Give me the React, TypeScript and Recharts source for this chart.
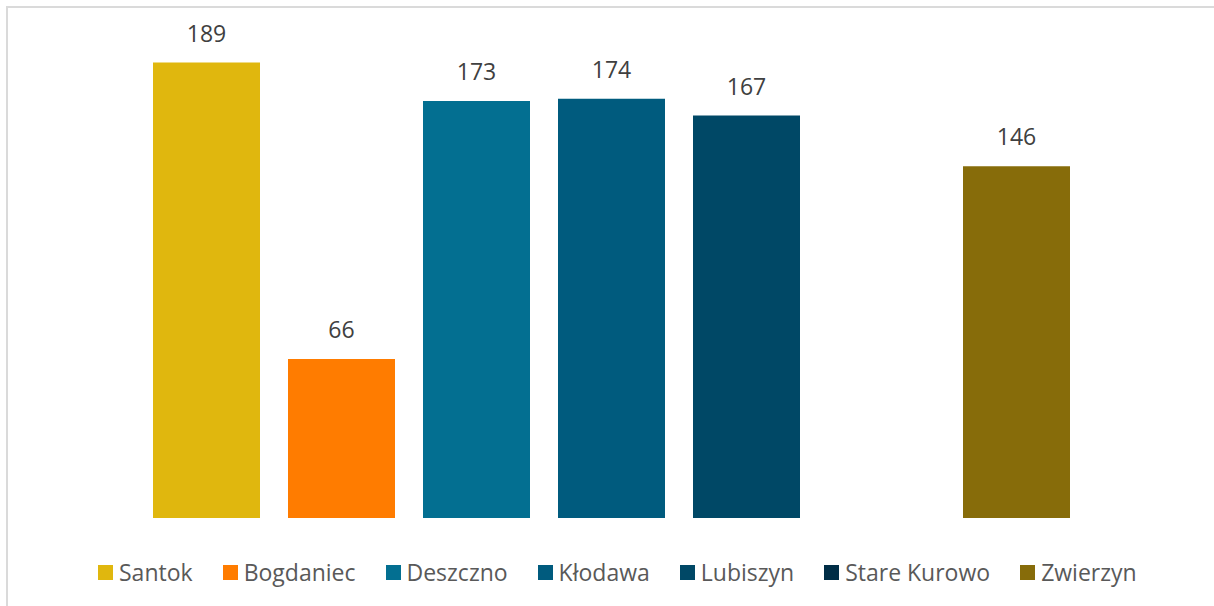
import React from 'react';
import { BarChart, Bar, XAxis, YAxis, Legend, LabelList } from 'recharts';

const gminy = ['Santok', 'Bogdaniec', 'Deszczno', 'Kłodawa', 'Lubiszyn', 'Stare Kurowo', 'Zwierzyn'];
const wartosci: (number | null)[] = [189, 66, 173, 174, 167, null, 146];
const kolory = ['#E0B70E', '#FF7C00', '#036F91', '#005B7E', '#004866', '#002D46', '#876C0A'];

const data = [
  gminy.reduce((row: Record<string, any>, g, i) => {
    row[g] = wartosci[i];
    return row;
  }, { name: '' }),
];

const FONT = '"Open Sans", "Noto Sans", sans-serif';

function LegendContent(props: any) {
  // keep the series order, recharts sorts the payload by name
  const items = [...(props.payload || [])].sort(
    (a: any, b: any) => gminy.indexOf(a.value) - gminy.indexOf(b.value)
  );
  return (
    <div style={{ display: 'flex', alignItems: 'center', paddingLeft: 98, fontFamily: FONT }}>
      {items.map((it: any) => (
        <div key={it.value} style={{ display: 'flex', alignItems: 'center', marginRight: 30 }}>
          <span style={{ width: 15, height: 15, background: it.color, display: 'inline-block', marginRight: 6 }} />
          <span style={{ fontSize: 23, color: '#595959', lineHeight: '28px' }}>{it.value}</span>
        </div>
      ))}
    </div>
  );
}

export default function App() {
  return (
    <div style={{ position: 'absolute', left: 0, top: 0, width: 1214, height: 606, background: '#fff', overflow: 'hidden' }}>
      <div
        style={{
          position: 'absolute',
          left: 6,
          top: 6,
          width: 1220,
          height: 620,
          borderTop: '2px solid #DADADA',
          borderLeft: '2px solid #DADADA',
        }}
      />
      <BarChart
        width={1214}
        height={606}
        data={data}
        margin={{ top: 36, right: 130, bottom: 8, left: 138 }}
        barSize={107}
        barGap={28}
        style={{ position: 'absolute', left: 0, top: 0 }}
      >
        <XAxis dataKey="name" hide />
        <YAxis domain={[0, 200]} hide />
        <Legend
          verticalAlign="bottom"
          height={40}
          content={<LegendContent />}
          wrapperStyle={{ left: 0, width: 1214, paddingTop: 40 }}
        />
        {gminy.map((g, i) => (
          <Bar key={g} dataKey={g} fill={kolory[i]} isAnimationActive={false}>
            <LabelList
              dataKey={g}
              position="top"
              offset={21}
              fill="#404040"
              fontSize={23}
              fontFamily={FONT}
            />
          </Bar>
        ))}
      </BarChart>
    </div>
  );
}
